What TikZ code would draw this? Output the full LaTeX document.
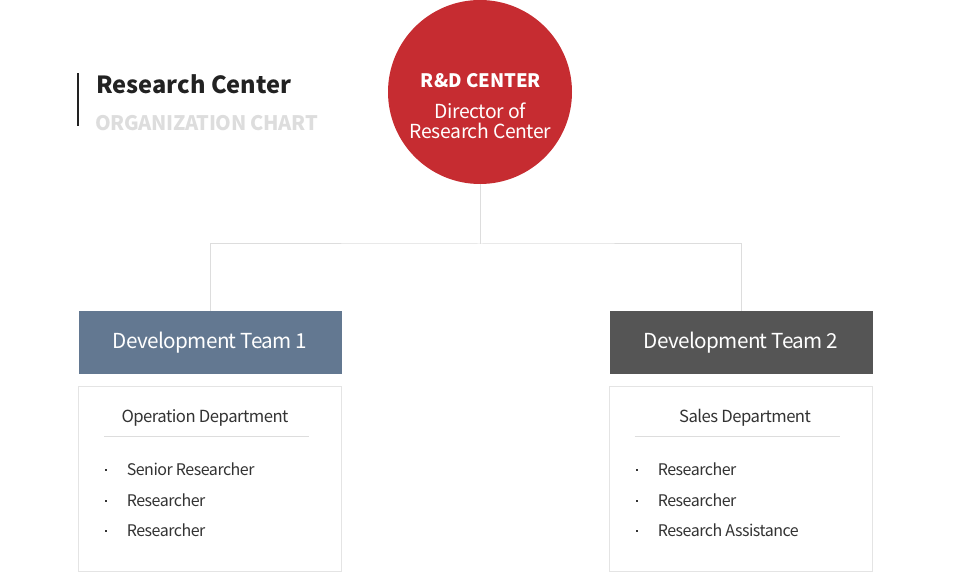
\documentclass[tikz,border=0pt]{standalone}
\usepackage{fontspec}
\setmainfont{Noto Sans CJK KR}
\usetikzlibrary{positioning}
\definecolor{rdred}{HTML}{C62C31}
\definecolor{teamblue}{HTML}{637891}
\definecolor{teamgray}{HTML}{555555}
\definecolor{linegray}{HTML}{DDDDDD}
\definecolor{boxgray}{HTML}{E4E4E4}
\definecolor{textdark}{HTML}{333333}
\definecolor{headdark}{HTML}{222222}
\definecolor{subgray}{HTML}{DDDDDD}
\newcommand{\tight}[1]{\addfontfeature{LetterSpace=#1}}
\begin{document}
\begin{tikzpicture}[x=0.75pt,y=-0.75pt,
    link/.style={draw=linegray,line width=0.75pt},
    team/.style={minimum width=197.25pt,minimum height=47.25pt,inner sep=0pt,text=white,
      font=\fontsize{15.5}{18}\selectfont\tight{-3}},
    dept/.style={draw=boxgray,fill=white,line width=0.75pt,minimum width=197.25pt,
      minimum height=138.75pt,inner sep=0pt},
    deptname/.style={anchor=base,inner sep=0pt,text=textdark,font=\fontsize{12.5}{15}\selectfont\tight{-3}},
    item/.style={anchor=base west,inner sep=0pt,text=textdark,font=\fontsize{12}{14}\selectfont\tight{-3}},
    roleline/.style={anchor=base,inner sep=0pt,text=white,font=\fontsize{14.5}{17}\selectfont\tight{-2}}]
  \useasboundingbox (0,0) rectangle (961,573);
  % heading
  \draw[line width=1.5pt,headdark] (77.7,73.5) -- (77.7,126.5);
  \node[anchor=base west,inner sep=0pt,text=headdark,font=\bfseries\fontsize{17.7}{20}\selectfont] (title) at (96,93.5) {Research Center};
  \node[anchor=base west,inner sep=0pt,text=subgray,font=\bfseries\fontsize{15}{18}\selectfont\tight{-1.5}] (subtitle) at (95,130.5) {ORGANIZATION CHART};
  % director
  \node[circle,fill=rdred,minimum size=138pt,inner sep=0pt] (director) at (480,92) {};
  \node[anchor=base,inner sep=0pt,text=white,font=\bfseries\fontsize{13.9}{16}\selectfont] (rdname) at (481,87.5) {R\&D CENTER};
  \node[roleline] (rdrole1) at (480,118.5) {Director of};
  \node[roleline] (rdrole2) at (480.5,138.5) {Research Center};
  % teams
  \node[team,fill=teamblue] (team1) at (210,342.5) {Development Team 1};
  \node[team,fill=teamgray] (team2) at (741,342.5) {Development Team 2};
  \coordinate (split) at (480,244);
  \draw[link] (director.south) -- (split);
  \draw[link] (team1.north) |- (split) -| (team2.north);
  % departments
  \node[dept] (dept1) at (210,479) {};
  \node[dept] (dept2) at (741,479) {};
  \node[deptname] (deptname1) at (205,423) {Operation Department};
  \node[deptname] (deptname2) at (745,423) {Sales Department};
  \draw[link] (104,437) -- (309,437);
  \draw[link] (634.5,437) -- (840,437);
  \foreach \y/\txt [count=\i] in {476/Senior Researcher,506.5/Researcher,537/Researcher}{
    \fill[textdark] (105,\y-6.5) rectangle ++(2,2);
    \node[item] (itemA\i) at (126.5,\y) {\txt};
  }
  \foreach \y/\txt [count=\i] in {476/Researcher,506.5/Researcher,537/Research Assistance}{
    \fill[textdark] (636,\y-6.5) rectangle ++(2,2);
    \node[item] (itemB\i) at (657.5,\y) {\txt};
  }
\end{tikzpicture}
\end{document}
